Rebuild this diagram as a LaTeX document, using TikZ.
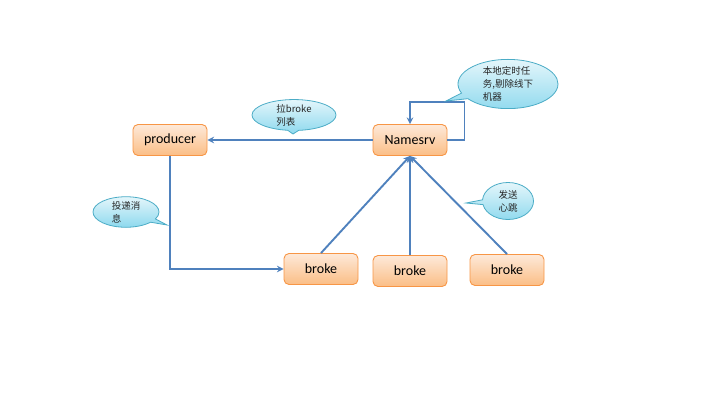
\documentclass[tikz,border=0pt]{standalone}
\usepackage{fontspec}
\setmainfont{Carlito}
\newfontfamily\cjk{Noto Sans CJK SC}
\usetikzlibrary{shapes.callouts, arrows}
\definecolor{linkblue}{HTML}{4F81BD}
\definecolor{boxline}{HTML}{F79646}
\definecolor{boxtop}{HTML}{FDE9D9}
\definecolor{boxbottom}{HTML}{FBBE86}
\definecolor{noteline}{HTML}{4BACC6}
\definecolor{notetop}{HTML}{E4F6FB}
\definecolor{notebottom}{HTML}{8ED9EE}
\tikzstyle{box} = [
    rectangle,
    rounded corners=5pt,
    minimum width=74pt,
    minimum height=31pt,
    draw=boxline,
    line width=0.9pt,
    top color=boxtop,
    bottom color=boxbottom,
    text=black,
    font=\fontsize{14}{16}\selectfont
]
\tikzstyle{note} = [
    ellipse callout,
    draw=noteline,
    line width=0.8pt,
    top color=notetop,
    bottom color=notebottom,
    inner sep=0pt,
    align=left,
    text=black!85,
    font=\cjk\fontsize{9.5}{13}\selectfont
]
\tikzstyle{arrow} = [
    line width=1.9pt,
    draw=linkblue,
    ->,
    >=stealth
]

\begin{document}
\begin{tikzpicture}[>=stealth, x=1pt, y=-1pt, node distance=240pt]
        \useasboundingbox (0,0) rectangle (720,405);
        \node (producer) [box] at (170,140) {producer};
        \node (namesrv) [box, right of=producer] {Namesrv};
        \node (broke2) [box, below of=namesrv, node distance=131pt] {broke};
        \node (broke1) [box, left of=broke2, node distance=89pt, yshift=2pt] {broke};
        \node (broke3) [box, right of=broke2, node distance=97pt, yshift=1pt] {broke};

        \draw[arrow] (namesrv) -- (producer);
        \draw[arrow] (producer.south) |- (broke1.west);
        \draw[arrow] (broke1.north) -- (namesrv.south);
        \draw[arrow] (broke2.north) -- (namesrv.south);
        \draw[arrow] (broke3.north) -- (namesrv.south);
        \draw[arrow] (namesrv.east) -| ++(17,-38) -| (namesrv.north);

        \node (timer) [note, minimum width=100pt, minimum height=48pt, callout absolute pointer={(446,101)}] at (508,84) {本地定时任\\务,剔除线下\\机器};
        \node (pull) [note, minimum width=84pt, minimum height=27pt, callout absolute pointer={(293,134)}] at (294,115) {拉broke\\列表};
        \node (send) [note, minimum width=66pt, minimum height=28pt, callout absolute pointer={(167,225)}] at (126,212) {投递消\\息};
        \node (beat) [note, minimum width=51pt, minimum height=37pt, callout absolute pointer={(466,203)}] at (508,201) {发送\\心跳};
    \end{tikzpicture}
\end{document}
